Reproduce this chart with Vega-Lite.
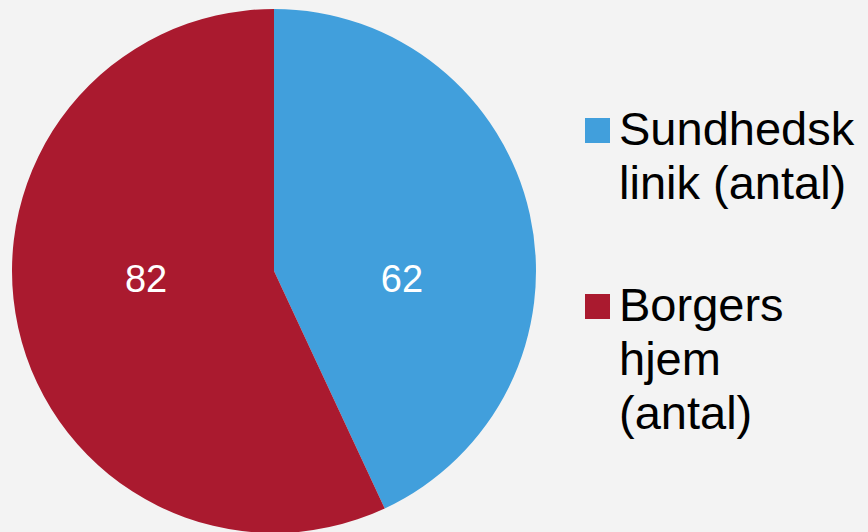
{
  "$schema": "https://vega.github.io/schema/vega-lite/v6.json",
  "autosize": "none",
  "width": 548,
  "height": 522,
  "padding": {"top": 10, "left": 0, "right": 320, "bottom": 0},
  "background": "#F3F3F3",
  "config": {"view": {"stroke": null}, "font": "Liberation Sans"},
  "data": {"values": [
    {"kategori": "Sundhedsklinik (antal)", "antal": 62, "rk": 1},
    {"kategori": "Borgers hjem (antal)", "antal": 82, "rk": 2}
  ]},
  "encoding": {
    "theta": {"field": "antal", "type": "quantitative", "stack": true},
    "order": {"field": "rk", "type": "quantitative"}
  },
  "layer": [
    {
      "mark": {"type": "arc", "outerRadius": 262},
      "encoding": {
        "color": {
          "field": "kategori", "type": "nominal",
          "scale": {"domain": ["Sundhedsklinik (antal)", "Borgers hjem (antal)"], "range": ["#419FDC", "#AA1A2F"]},
          "legend": {
            "title": null, "orient": "none", "legendX": 574, "legendY": 97, "padding": 0,
            "symbolType": "square", "symbolSize": 625, "symbolStrokeWidth": 0,
            "labelFont": "Liberation Sans", "labelFontSize": 47,
            "labelColor": "#000000", "labelLimit": 0, "labelOffset": -2, "rowPadding": 74,
            "labelExpr": "datum.label == 'Sundhedsklinik (antal)' ? ['Sundhedsk', 'linik (antal)'] : ['Borgers', 'hjem', '(antal)']",
            "encode": {"labels": {"update": {"lineHeight": {"value": 54}}}}
          }
        }
      }
    },
    {
      "mark": {"type": "text", "radius": 131, "dy": {"expr": "datum.rk == 1 ? 38 : -18"}, "fontSize": 38, "color": "#FFFFFF", "font": "Liberation Sans"},
      "encoding": {"text": {"field": "antal", "type": "quantitative"}}
    }
  ]
}
